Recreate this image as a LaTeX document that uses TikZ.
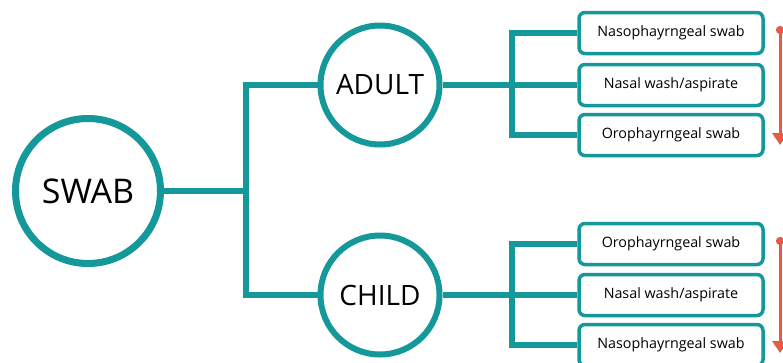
\documentclass[tikz,border=0pt]{standalone}
\usepackage{fontspec}
\setmainfont{Open Sans}
\usetikzlibrary{positioning,arrows.meta}
\definecolor{tealline}{RGB}{20,152,154}
\definecolor{coral}{RGB}{232,90,70}

\begin{document}
\begin{tikzpicture}[x=1pt,y=-1pt,
    line width=5.5pt, draw=tealline,
    root/.style={circle,draw=tealline,line width=7pt,minimum size=145pt,
      inner sep=0pt,font=\fontsize{34}{40}\selectfont},
    group/.style={circle,draw=tealline,line width=6pt,minimum size=119pt,
      inner sep=0pt,font=\fontsize{28}{34}\selectfont},
    sample/.style={rectangle,rounded corners=6pt,draw=tealline,line width=3.5pt,
      minimum width=184pt,minimum height=41pt,font=\fontsize{14.3}{17}\selectfont},
    order/.style={draw=coral,line width=3pt,
      {Circle[length=8pt]}-{Triangle[length=12pt,width=15pt]}}
    ]
    \useasboundingbox (0,0) rectangle (783,362);
    \clip (0,0) rectangle (783,362);
    \node[root] (SWAB) at (88,191) {SWAB};
    \node[group] (ADULT) at (380,85) {ADULT};
    \node[group] (CHILD) at (380,295) {CHILD};
    % adult samples
    \node[sample] (A1) at (671,33) {Nasophayrngeal swab};
    \node[sample] (A2) at (671,85) {Nasal wash/aspirate};
    \node[sample] (A3) at (671,135) {Orophayrngeal swab};
    % child samples
    \node[sample] (C1) at (671,244) {Orophayrngeal swab};
    \node[sample] (C2) at (671,295) {Nasal wash/aspirate};
    \node[sample] (C3) at (671,345) {Nasophayrngeal swab};
    \coordinate (J0) at (246,191);
    \coordinate (JA) at (512,85);
    \coordinate (JC) at (512,295);
    \draw (SWAB) -- (J0);
    \draw (ADULT) -| (J0) |- (CHILD);
    \draw (ADULT) -- (JA);
    \draw (A1) -| (JA) |- (A3);
    \draw (JA) -- (A2);
    \draw (CHILD) -- (JC);
    \draw (C1) -| (JC) |- (C3);
    \draw (JC) -- (C2);
    % order arrows
    \coordinate (RA1) at (780,26);
    \coordinate (RA2) at (780,145);
    \coordinate (RC1) at (780,237);
    \coordinate (RC2) at (780,353);
    \draw[order] (RA1) -- (RA2);
    \draw[order] (RC1) -- (RC2);
\end{tikzpicture}
\end{document}
